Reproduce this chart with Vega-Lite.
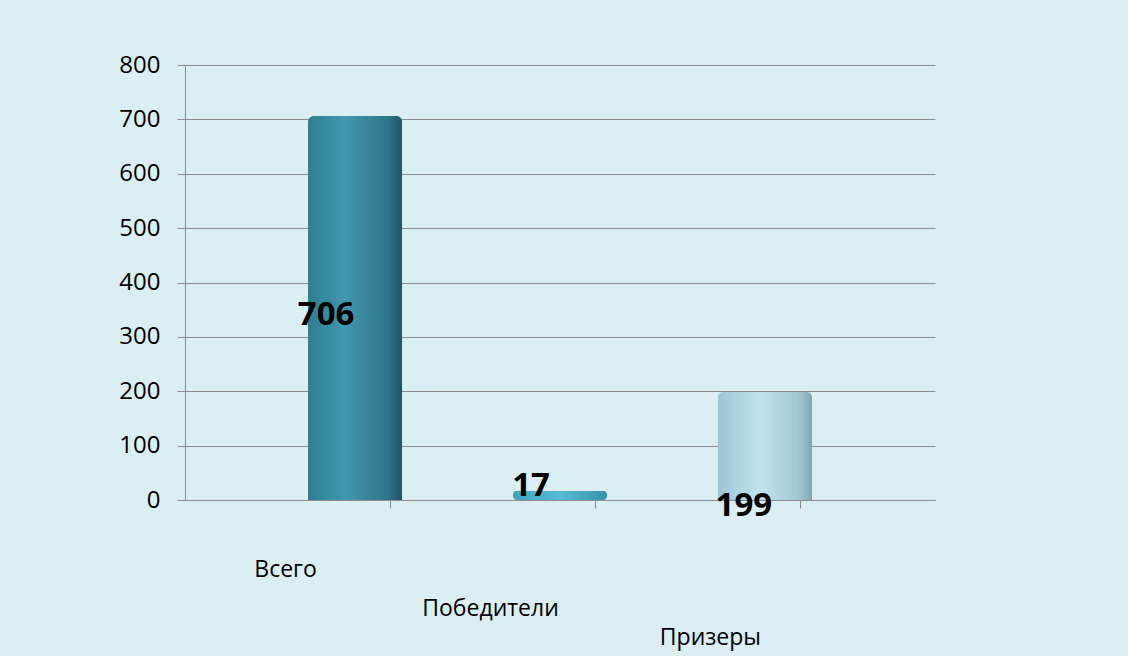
{
  "$schema": "https://vega.github.io/schema/vega-lite/v6.json",
  "autosize": "none",
  "width": 750,
  "height": 435,
  "padding": {"left": 185, "top": 65, "right": 193, "bottom": 156},
  "background": "#DBEEF4",
  "config": {
    "view": {"stroke": null},
    "font": "Open Sans",
    "axis": {"labelFont": "Open Sans", "labelColor": "#000000"}
  },
  "data": {
    "values": [
      {"category": "Всего", "value": 706},
      {"category": "Победители", "value": 17},
      {"category": "Призеры", "value": 199}
    ]
  },
  "encoding": {
    "x": {
      "field": "category",
      "type": "nominal",
      "sort": null,
      "scale": {"paddingInner": 0.54, "paddingOuter": 0.6},
      "axis": {
        "title": null,
        "labelAngle": 0,
        "labelFontSize": 23,
        "domainColor": "#8C8C8C",
        "tickColor": "#8C8C8C",
        "tickOffset": 35,
        "tickSize": 8,
        "labelPadding": {"expr": "datum.label == 'Всего' ? 50 : datum.label == 'Победители' ? 89 : 118"},
        "labelOffset": {"expr": "datum.label == 'Призеры' ? -90 : -105"}
      }
    },
    "y": {
      "field": "value",
      "type": "quantitative",
      "scale": {"domain": [0, 800]},
      "axis": {
        "title": null,
        "values": [0, 100, 200, 300, 400, 500, 600, 700, 800],
        "labelFontSize": 24,
        "labelPadding": 17,
        "domainColor": "#8C8C8C",
        "tickColor": "#8C8C8C",
        "tickSize": 8,
        "gridColor": "#8C8C8C",
        "gridWidth": 1
      }
    }
  },
  "layer": [
    {
      "transform": [{"filter": "datum.category == 'Всего'"}],
      "mark": {
        "type": "bar",
        "cornerRadiusTopLeft": 6,
        "cornerRadiusTopRight": 6,
        "color": {
          "gradient": "linear", "x1": 0, "x2": 1, "y1": 0, "y2": 0,
          "stops": [
            {"offset": 0, "color": "#2F7E93"},
            {"offset": 0.4, "color": "#4198AE"},
            {"offset": 0.85, "color": "#2E7488"},
            {"offset": 1, "color": "#1F5666"}
          ]
        }
      }
    },
    {
      "transform": [{"filter": "datum.category == 'Победители'"}],
      "mark": {
        "type": "bar",
        "cornerRadius": 4,
        "color": {
          "gradient": "linear", "x1": 0, "x2": 1, "y1": 0, "y2": 0,
          "stops": [
            {"offset": 0, "color": "#3FA3BC"},
            {"offset": 0.5, "color": "#55BCD4"},
            {"offset": 1, "color": "#3592AA"}
          ]
        }
      }
    },
    {
      "transform": [{"filter": "datum.category == 'Призеры'"}],
      "mark": {
        "type": "bar",
        "cornerRadiusTopLeft": 6,
        "cornerRadiusTopRight": 6,
        "color": {
          "gradient": "linear", "x1": 0, "x2": 1, "y1": 0, "y2": 0,
          "stops": [
            {"offset": 0, "color": "#9CC7D6"},
            {"offset": 0.45, "color": "#BFE2EE"},
            {"offset": 0.85, "color": "#A2C9D6"},
            {"offset": 1, "color": "#7FA6B3"}
          ]
        }
      }
    },
    {
      "transform": [{"filter": "datum.category == 'Всего'"}, {"calculate": "datum.value / 2", "as": "mid"}],
      "mark": {"type": "text", "fontSize": 33, "fontWeight": "bold", "color": "#000000", "dx": -29, "dy": 7, "baseline": "middle"},
      "encoding": {
        "y": {"field": "mid", "type": "quantitative"},
        "text": {"field": "value", "type": "quantitative"}
      }
    },
    {
      "transform": [{"filter": "datum.category == 'Победители'"}],
      "mark": {"type": "text", "fontSize": 33, "fontWeight": "bold", "color": "#000000", "dx": -29, "dy": 12, "baseline": "bottom"},
      "encoding": {
        "text": {"field": "value", "type": "quantitative"}
      }
    },
    {
      "transform": [{"filter": "datum.category == 'Призеры'"}, {"calculate": "datum.value / 2", "as": "mid"}],
      "mark": {"type": "text", "fontSize": 33, "fontWeight": "bold", "color": "#000000", "dx": -21, "dy": 60, "baseline": "middle"},
      "encoding": {
        "y": {"field": "mid", "type": "quantitative"},
        "text": {"field": "value", "type": "quantitative"}
      }
    }
  ]
}
